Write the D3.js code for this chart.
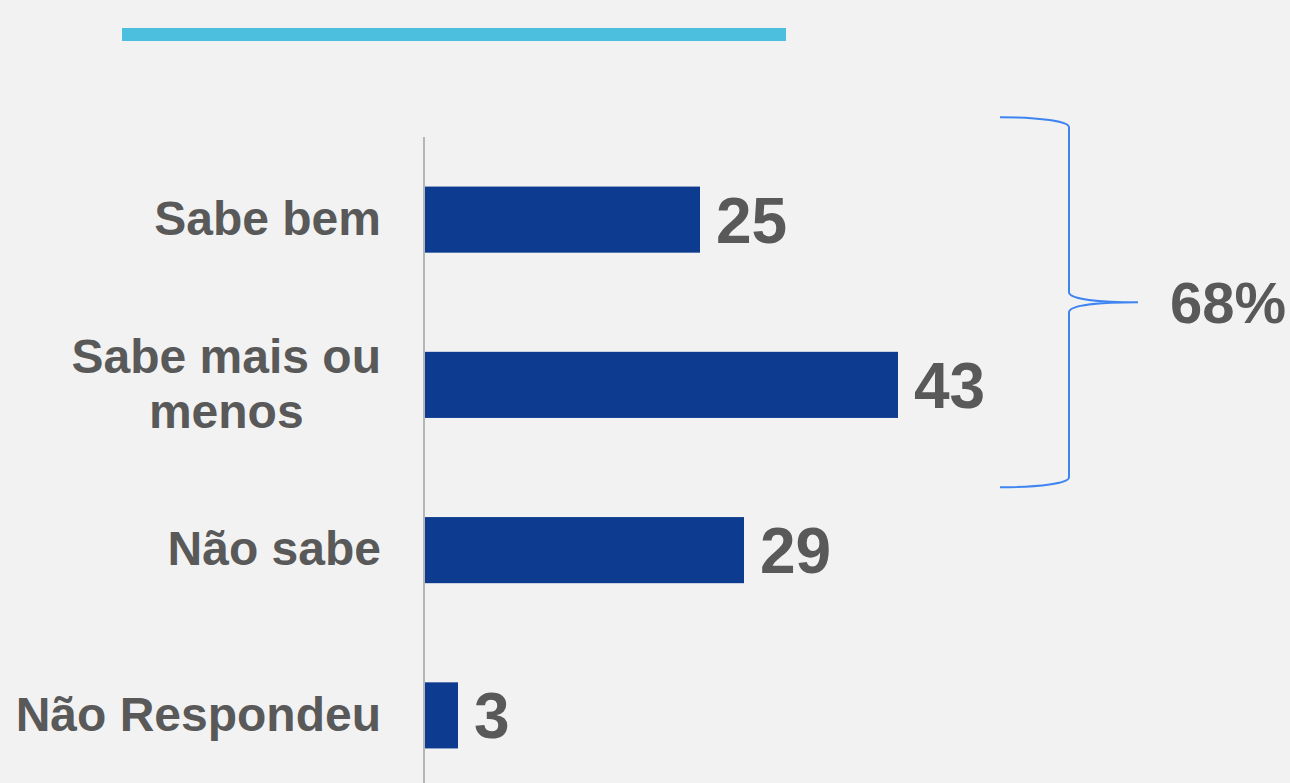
<!DOCTYPE html>
<html>
<head>
<meta charset="utf-8">
<script src="https://cdn.jsdelivr.net/npm/d3@7.9.0/dist/d3.min.js"></script>
<style>
  html, body { margin: 0; padding: 0; background: #f2f2f2; }
  svg { display: block; font-family: "Liberation Sans", Arial, Helvetica, sans-serif; }
</style>
</head>
<body>
<svg id="chart" width="1290" height="783"></svg>
<script>
// data
const categories = ['Sabe bem', 'Sabe mais ou menos', 'Não sabe', 'Não Respondeu'];
const categoryLines = [['Sabe bem'], ['Sabe mais ou', 'menos'], ['Não sabe'], ['Não Respondeu']];
const values = [25, 43, 29, 3];
const bracketGroup = ['Sabe bem', 'Sabe mais ou menos'];

const W = 1290, H = 783;
const svg = d3.select('#chart');

svg.append('rect').attr('width', W).attr('height', H).attr('fill', '#f2f2f2');

// title rule at the top
svg.append('rect')
  .attr('x', 122).attr('y', 28)
  .attr('width', 664).attr('height', 13)
  .attr('fill', '#4bbfdd');

const x = d3.scaleLinear().domain([0, 43]).range([425, 898]);
const y = d3.scaleBand()
  .domain(categories)
  .range([137, 798])
  .paddingInner(0.6)
  .paddingOuter(0.3);

const rows = categories.map((c, i) => ({ cat: c, lines: categoryLines[i], value: values[i] }));

// bars
svg.append('g').selectAll('rect')
  .data(rows)
  .join('rect')
  .attr('x', x(0))
  .attr('y', d => y(d.cat))
  .attr('width', d => x(d.value) - x(0))
  .attr('height', y.bandwidth())
  .attr('fill', '#0c3b8f');

// value labels
svg.append('g').selectAll('text')
  .data(rows)
  .join('text')
  .attr('x', d => x(d.value) + 16)
  .attr('y', d => y(d.cat) + y.bandwidth() / 2)
  .attr('dy', '0.36em')
  .attr('font-size', 64)
  .attr('font-weight', 'bold')
  .attr('fill', '#595959')
  .text(d => d.value);

// category labels (multi-line ones centred inside a right-aligned block)
const lineH = 54.6;
const labels = svg.append('g').selectAll('text')
  .data(rows)
  .join('text')
  .attr('font-size', 48)
  .attr('font-weight', 'bold')
  .attr('fill', '#595959')
  .attr('y', d => y(d.cat) + y.bandwidth() / 2 - (d.lines.length - 1) * lineH / 2)
  .attr('dy', '0.32em');

labels.each(function (d) {
  const t = d3.select(this);
  d.lines.forEach((line, i) => {
    t.append('tspan').attr('x', 0).attr('dy', i === 0 ? '0.32em' : lineH).text(line);
  });
  // measure and place
  const widths = [];
  t.selectAll('tspan').each(function () { widths.push(this.getComputedTextLength()); });
  const blockW = d3.max(widths);
  const right = 381;
  t.selectAll('tspan').attr('x', (_, i) => right - blockW + (blockW - widths[i]) / 2);
});

// axis line
svg.append('line')
  .attr('x1', x(0) - 1).attr('x2', x(0) - 1)
  .attr('y1', 137).attr('y2', H)
  .attr('stroke', '#a6a6a6')
  .attr('stroke-width', 1.6);

// curly bracket around the first two bars
const bTop = y(bracketGroup[0]) - y.step() * 0.42;
const bBot = y(bracketGroup[1]) + y.bandwidth() + y.step() * 0.42;
const bMid = (bTop + bBot) / 2;
const bx0 = 1000, bx1 = 1069, tip = 1138;
const p = d3.path();
p.moveTo(bx0, bTop);
p.bezierCurveTo(1040, bTop, bx1, bTop + 4, bx1, bTop + 10);
p.lineTo(bx1, bMid - 10);
p.bezierCurveTo(bx1, bMid - 3, 1100, bMid, tip, bMid);
p.bezierCurveTo(1100, bMid, bx1, bMid + 3, bx1, bMid + 10);
p.lineTo(bx1, bBot - 10);
p.bezierCurveTo(bx1, bBot - 4, 1040, bBot, bx0, bBot);
svg.append('path')
  .attr('d', p.toString())
  .attr('fill', 'none')
  .attr('stroke', '#3f85f2')
  .attr('stroke-width', 2);

const groupTotal = d3.sum(rows.filter(r => bracketGroup.includes(r.cat)), r => r.value);
svg.append('text')
  .attr('x', 1170)
  .attr('y', bMid)
  .attr('dy', '0.36em')
  .attr('font-size', 58)
  .attr('font-weight', 'bold')
  .attr('fill', '#595959')
  .text(`${groupTotal}%`);
</script>
</body>
</html>
